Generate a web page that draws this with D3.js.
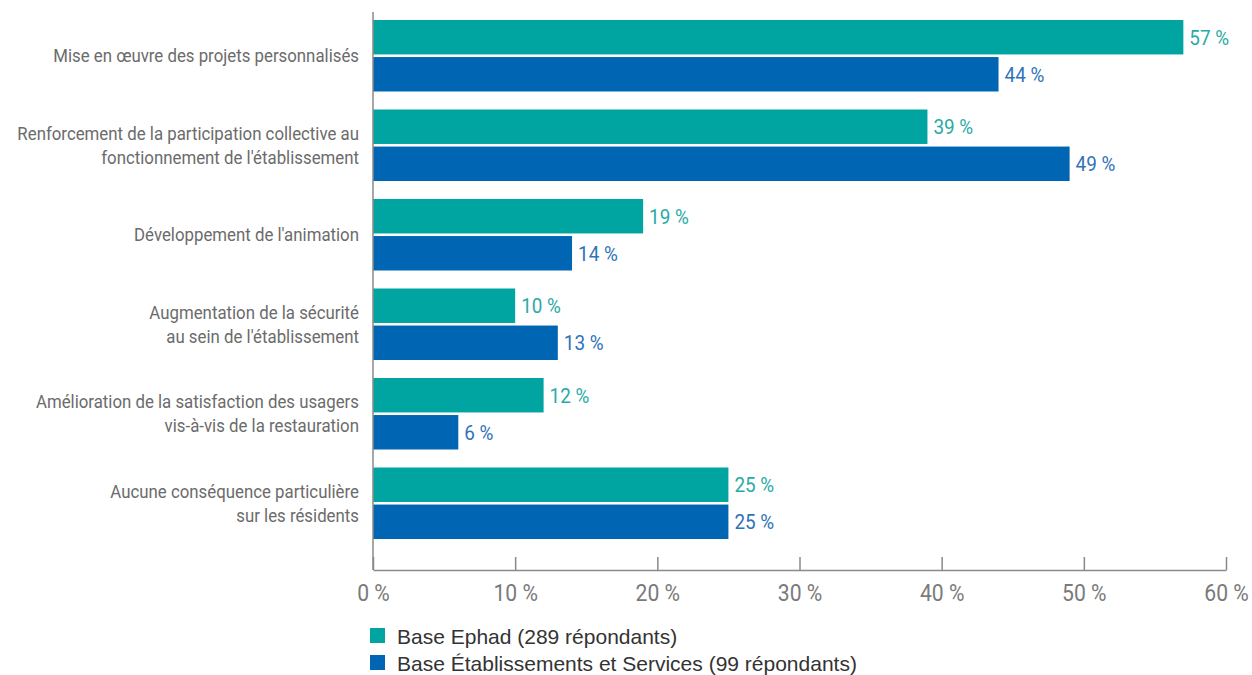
<!DOCTYPE html>
<html>
<head>
<meta charset="utf-8">
<script src="https://cdn.jsdelivr.net/npm/d3@7"></script>
<style>
  html, body { margin: 0; padding: 0; background: #fff; }
  svg { display: block; }
  .cond { font-family: "Roboto", "Liberation Sans", sans-serif; }
</style>
</head>
<body>
<svg id="chart" width="1252" height="675"></svg>
<script>
const categories = [
  ["Mise en œuvre des projets personnalisés"],
  ["Renforcement de la participation collective au", "fonctionnement de l'établissement"],
  ["Développement de l'animation"],
  ["Augmentation de la sécurité", "au sein de l'établissement"],
  ["Amélioration de la satisfaction des usagers", "vis-à-vis de la restauration"],
  ["Aucune conséquence particulière", "sur les résidents"]
];
const ephad = [57, 39, 19, 10, 12, 25];
const etablissements = [44, 49, 14, 13, 6, 25];
const seriesNames = ["Base Ephad (289 répondants)", "Base Établissements et Services (99 répondants)"];
const tickValues = [0, 10, 20, 30, 40, 50, 60];

const barColors = ["#00a4a0", "#0066b3"];
const labelColors = ["#2aaaa6", "#2e72b9"];

const svg = d3.select("#chart");
const x0 = 373, x1 = 1226, axisY = 570;

const x = d3.scaleLinear().domain([0, 60]).range([x0, x1]);
const y = d3.scaleBand().domain(d3.range(categories.length)).range([12, 549]).paddingInner(0).paddingOuter(0);
const sub = d3.scaleBand().domain([0, 1]).range([8, y.bandwidth() - 10]).paddingInner(0.07);

// horizontally narrowed text, giving the condensed look of the labels
function narrow(sel, ax, ay, k) {
  sel.attr("transform", `translate(${ax},${ay}) scale(${k},1)`);
}

const groups = svg.append("g").selectAll("g")
  .data(categories.map((c, i) => ({ c, i, vals: [ephad[i], etablissements[i]] })))
  .join("g")
  .attr("transform", d => `translate(0,${y(d.i)})`);

groups.selectAll("rect")
  .data(d => d.vals.map((v, s) => ({ v, s })))
  .join("rect")
  .attr("x", x(0))
  .attr("y", d => sub(d.s))
  .attr("width", d => x(d.v) - x(0))
  .attr("height", sub.bandwidth())
  .attr("fill", d => barColors[d.s]);

groups.selectAll("text.val")
  .data(d => d.vals.map((v, s) => ({ v, s })))
  .join("text")
  .attr("class", "val cond")
  .attr("dy", "0.36em")
  .attr("font-size", 21)
  .attr("fill", d => labelColors[d.s])
  .text(d => `${d.v} %`)
  .each(function(d) {
    narrow(d3.select(this), x(d.v) + 6, sub(d.s) + sub.bandwidth() / 2, 0.9);
  });

// category labels, right-aligned against the axis
groups.append("text")
  .attr("class", "cond")
  .attr("text-anchor", "end")
  .attr("font-size", 18)
  .attr("fill", "#6b6b6b")
  .each(function(d) {
    const t = d3.select(this);
    narrow(t, 359, y.bandwidth() / 2 - 1, 0.935);
    const lh = 24;
    const n = d.c.length;
    d.c.forEach((line, k) => {
      t.append("tspan")
        .attr("x", 0)
        .attr("y", (k - (n - 1) / 2) * lh)
        .attr("dy", "0.35em")
        .text(line);
    });
  });

// vertical baseline
svg.append("line")
  .attr("x1", x0).attr("x2", x0)
  .attr("y1", 12).attr("y2", axisY)
  .attr("stroke", "#8a8a8a").attr("stroke-width", 1.5);

// bottom axis with ticks pointing up
const xAxis = d3.axisBottom(x)
  .tickValues(tickValues)
  .tickSizeInner(-13)
  .tickSizeOuter(0)
  .tickFormat(d => `${d} %`);

const ax = svg.append("g")
  .attr("transform", `translate(0,${axisY})`)
  .call(xAxis);
ax.select(".domain").attr("stroke", "#8a8a8a").attr("stroke-width", 1.5);
ax.selectAll(".tick line").attr("stroke", "#8a8a8a").attr("stroke-width", 1.5);
ax.selectAll(".tick text")
  .attr("class", "cond")
  .attr("x", null).attr("y", null)
  .attr("dy", "0.36em")
  .attr("font-size", 23)
  .attr("fill", "#7a7a7a")
  .each(function() { narrow(d3.select(this), 0, 23, 0.92); });

// legend
const legend = svg.append("g").attr("transform", "translate(370,628)");
seriesNames.forEach((name, i) => {
  const g = legend.append("g").attr("transform", `translate(0,${i * 27})`);
  g.append("rect").attr("width", 15).attr("height", 15).attr("fill", barColors[i]);
  g.append("text")
    .attr("x", 27).attr("y", 8).attr("dy", "0.36em")
    .attr("font-family", "'Liberation Sans', Arial, sans-serif")
    .attr("font-size", 21)
    .attr("fill", "#333")
    .text(name);
});
</script>
</body>
</html>
